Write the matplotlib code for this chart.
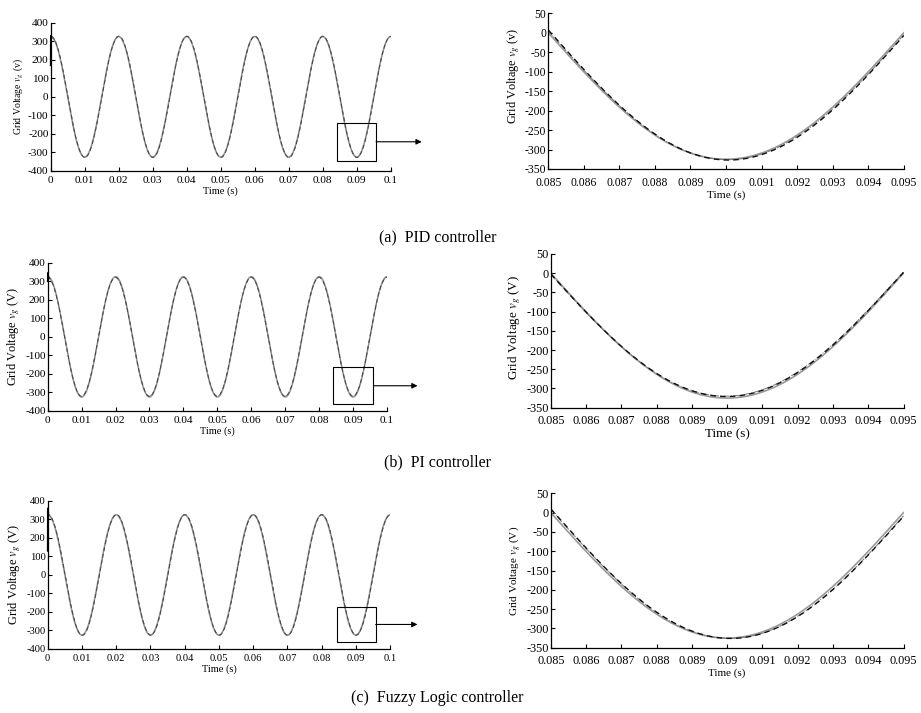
import numpy as np
import matplotlib
matplotlib.use("Agg")
import matplotlib.pyplot as plt
from matplotlib.patches import Rectangle

plt.rcParams['font.family'] = ['Liberation Serif', 'DejaVu Serif']
plt.rcParams['mathtext.fontset'] = 'stix'

# ---------------- data ----------------
captions = ["(a)  PID controller", "(b)  PI controller", "(c)  Fuzzy Logic controller"]
ylabels_left = [r"Grid Voltage $v_g$ (v)", r"Grid Voltage $v_g$ (V)", r"Grid Voltage $v_g$ (V)"]
ylabels_right = [r"Grid Voltage $v_g$ (v)", r"Grid Voltage $v_g$ (V)", r"Grid Voltage $v_g$ (V)"]

grid_freq = 50.0                       # Hz
ref_amp = [325.0, 325.0, 325.0]        # reference (solid grey)
dash_amp = [327.0, 321.0, 326.0]       # measured (dashed black)
dashdot_amp = [326.0, 320.0, 326.0]    # measured (dash-dot)
dash_delay = [70e-6, -20e-6, 95e-6]    # s, lag of dashed trace
dashdot_delay = [50e-6, -35e-6, 80e-6] # s, lag of dash-dot trace

# start-up transient samples of the measured trace
transient_t = [[0.0, 0.00005, 0.0002],
               [0.0, 0.00005, 0.00025],
               [0.0, 0.00003, 0.00008, 0.00012, 0.0002]]
transient_v = [[170, 330, 318],
               [300, 345, 315],
               [130, 360, 200, 350, 330]]

left_xlim = (0.0, 0.1)
left_xticks = [0, 0.01, 0.02, 0.03, 0.04, 0.05, 0.06, 0.07, 0.08, 0.09, 0.1]
left_yticks = [-400, -300, -200, -100, 0, 100, 200, 300, 400]
right_xlim = (0.085, 0.095)
right_xticks = [0.085, 0.086, 0.087, 0.088, 0.089, 0.09, 0.091, 0.092, 0.093, 0.094, 0.095]
right_yticks = [-350, -300, -250, -200, -150, -100, -50, 0, 50]

# zoom box in left plots: (x0, x1, y0, y1), arrow end x
zoom_box = [(0.0841, 0.0957, -345, -140),
            (0.0842, 0.0960, -364, -164),
            (0.0846, 0.0958, -364, -171)]
arrow_end_x = [0.1091, 0.1090, 0.1080]

# ---------------- layout ----------------
fig = plt.figure(figsize=(9.21, 7.13), dpi=100)
left_pos = [[0.0550, 0.7602, 0.3692, 0.2080],
            [0.0518, 0.4236, 0.3684, 0.2080],
            [0.0518, 0.0898, 0.3717, 0.2076]]
right_pos = [[0.5953, 0.7630, 0.3860, 0.2183],
             [0.5980, 0.4282, 0.3830, 0.2156],
             [0.5980, 0.0916, 0.3830, 0.2165]]
caption_y = [0.6676, 0.352, 0.021]
ylab_y_right = [0.60, 0.52, 0.5]

tick_fs_left = [8.2, 8.2, 7.6]
tick_fs_right = [8.4, 8.8, 8.8]
ylab_fs_left = [7.0, 8.8, 9.0]
ylab_fs_right = [8.8, 9.4, 8.0]
xlab_fs_left = [7.5, 7.5, 7.5]
xlab_fs_right = [8.1, 9.5, 8.0]
xpad_left = 3.5
xpad_right = 5.5

t_full = np.linspace(0, 0.1, 4001)
t_zoom = np.linspace(0.085, 0.095, 1001)

def wave(t, amp, delay):
    return amp * np.cos(2 * np.pi * grid_freq * (t - delay))

def style(ax, xlim, xticks, ylim, yticks, tfs, xfs, xpad):
    ax.set_xlim(*xlim)
    ax.set_ylim(*ylim)
    ax.set_xticks(xticks)
    ax.set_yticks(yticks)
    ax.set_xticklabels(["%g" % v for v in xticks])
    ax.set_yticklabels(["%g" % v for v in yticks])
    for s in ['top', 'right']:
        ax.spines[s].set_visible(False)
    for s in ['left', 'bottom']:
        ax.spines[s].set_linewidth(0.9)
    ax.tick_params(direction='in', length=3, width=0.8, labelsize=tfs, pad=1.5)
    ax.tick_params(axis='x', pad=xpad)
    ax.set_xlabel("Time (s)", fontsize=xfs, labelpad=1)

for i in range(3):
    # ---- left: full window ----
    ax = fig.add_axes(left_pos[i])
    ax.plot(t_full, wave(t_full, ref_amp[i], 0), color='#9a9a9a', lw=1.1, ls='-')
    tt = np.array(transient_t[i])
    mask = t_full > tt[-1]
    tm = np.concatenate([tt, t_full[mask]])
    vm_dash = np.concatenate([transient_v[i], wave(t_full[mask], dash_amp[i], dash_delay[i])])
    vm_dd = np.concatenate([transient_v[i], wave(t_full[mask], dashdot_amp[i], dashdot_delay[i])])
    ax.plot(tm, vm_dd, color='#777777', lw=0.6, ls='-.')
    ax.plot(tm, vm_dash, color='#444444', lw=0.7, ls=(0, (4, 3)))
    ax.plot(tt, transient_v[i], color='black', lw=1.2, zorder=6, clip_on=False)
    style(ax, left_xlim, left_xticks, (-400, 400), left_yticks, tick_fs_left[i],
          xlab_fs_left[i], xpad_left)
    ax.set_ylabel(ylabels_left[i], fontsize=ylab_fs_left[i], labelpad=2)
    x0, x1, y0, y1 = zoom_box[i]
    ax.add_patch(Rectangle((x0, y0), x1 - x0, y1 - y0, fill=False, ec='black', lw=0.8, zorder=5))
    ax.annotate("", xy=(arrow_end_x[i], (y0 + y1) / 2), xytext=(x1, (y0 + y1) / 2),
                xycoords='data', textcoords='data', annotation_clip=False,
                arrowprops=dict(arrowstyle='-|>', color='black', lw=0.8,
                                mutation_scale=8, shrinkA=0, shrinkB=0))

    # ---- right: zoom window ----
    ax2 = fig.add_axes(right_pos[i])
    ax2.plot(t_zoom, wave(t_zoom, ref_amp[i], 0), color='#9a9a9a', lw=1.2, ls='-')
    ax2.plot(t_zoom, wave(t_zoom, dashdot_amp[i], dashdot_delay[i]), color='#777777', lw=0.7, ls='-.')
    ax2.plot(t_zoom, wave(t_zoom, dash_amp[i], dash_delay[i]), color='#111111', lw=1.0, ls=(0, (4, 3)))
    style(ax2, right_xlim, right_xticks, (-350, 50), right_yticks, tick_fs_right[i],
          xlab_fs_right[i], xpad_right)
    ax2.set_ylabel(ylabels_right[i], fontsize=ylab_fs_right[i], labelpad=2)
    ax2.yaxis.label.set_y(ylab_y_right[i])

    fig.text(0.475, caption_y[i], captions[i], ha='center', va='center', fontsize=11.5)

fig.savefig("out.png", dpi=100)
